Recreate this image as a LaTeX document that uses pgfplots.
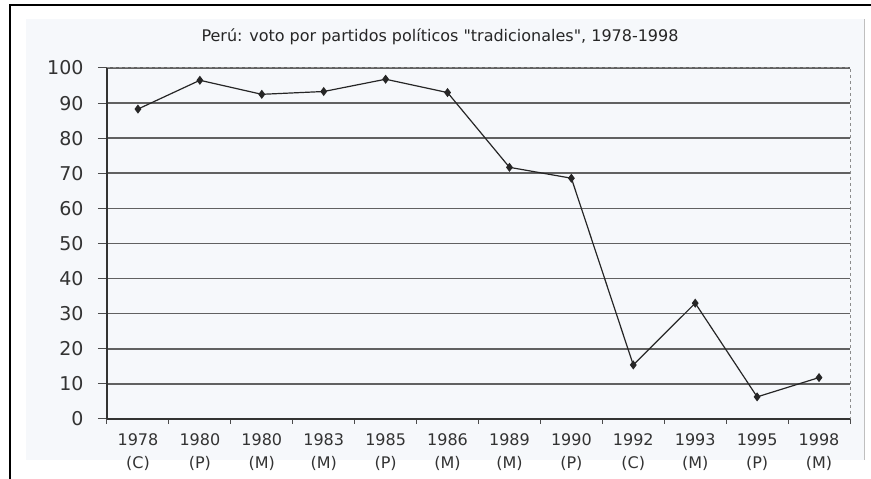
\documentclass[border=0pt]{standalone}
\usepackage{pgfplots}
\pgfplotsset{compat=1.18}
\usepackage{fontspec}
\setmainfont{DejaVu Sans}[Ligatures=TeXOff]
\definecolor{panelbg}{RGB}{246,248,251}
\begin{document}
\begin{tikzpicture}[x=1pt,y=1pt]
\useasboundingbox (0,0) rectangle (871,479);
\fill[white] (0,0) rectangle (871,479);
\fill[panelbg] (26,19) rectangle (864,460);
\draw[black, line width=2.2pt] (10,0) -- (10,474) -- (871,474);
\draw[black!25, line width=0.8pt] (864,19) -- (864,460);
\node[font=\fontsize{16}{19}\selectfont, text=black!85] at (440,442) {Perú: voto por partidos políticos "tradicionales", 1978-1998};
\begin{axis}[
  at={(107pt,60pt)}, anchor=south west,
  scale only axis, width=743pt, height=351pt,
  xmin=-0.5, xmax=11.5, ymin=0, ymax=100,
  axis x line*=bottom, axis y line*=left,
  axis line style={black!80, line width=1.3pt},
  ytick={0,10,...,100},
  ymajorgrids, grid style={black!62, line width=1.6pt},
  tick align=outside,
  major tick length=9pt,
  ytick style={black!70, line width=1pt},
  /pgf/number format/assume math mode=true,
  yticklabel style={font=\fontsize{19}{19}\selectfont, text=black!80, xshift=-11pt},
  xtick={0,...,11},
  xticklabels={{1978\\(C)},{1980\\(P)},{1980\\(M)},{1983\\(M)},{1985\\(P)},{1986\\(M)},{1989\\(M)},{1990\\(P)},{1992\\(C)},{1993\\(M)},{1995\\(P)},{1998\\(M)}},
  xticklabel style={align=center, font=\fontsize{16}{23}\selectfont, text=black!80, yshift=-2pt},
  major x tick style={draw=none},
  minor xtick={-0.5,0.5,...,11.5},
  minor tick length=5pt,
  minor x tick style={black!70, line width=1pt},
  clip=false,
]
\draw[black!45, dashed, line width=1pt] (rel axis cs:0,1) -- (rel axis cs:1,1) -- (rel axis cs:1,0);
\addplot[black!85, line width=1.2pt, mark=diamond*, mark size=3.6pt, mark options={fill=black!85}] coordinates {
(0,88.3) (1,96.5) (2,92.5) (3,93.3) (4,96.8) (5,93)
(6,71.7) (7,68.6) (8,15.4) (9,33) (10,6.3) (11,11.8)
};
\end{axis}
\end{tikzpicture}
\end{document}
